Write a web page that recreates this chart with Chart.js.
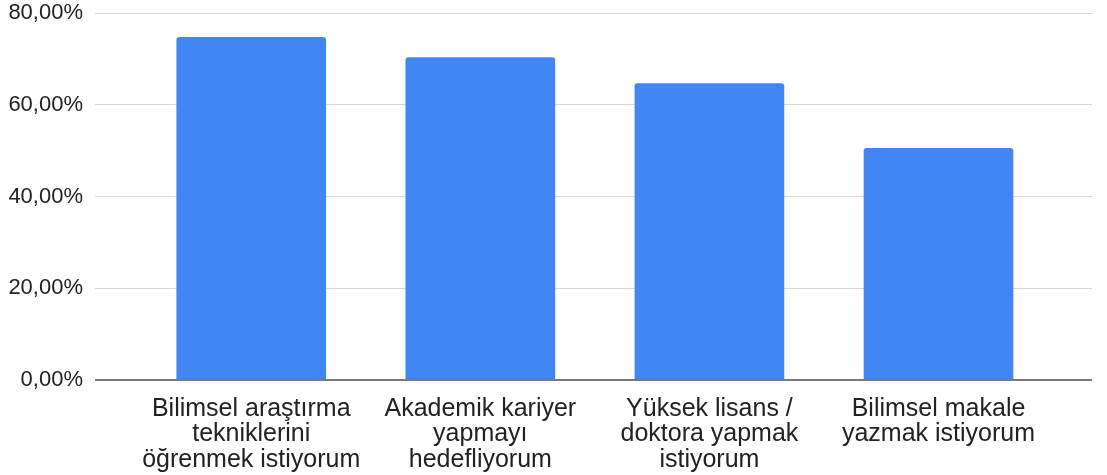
<!DOCTYPE html>
<html><head><meta charset="utf-8">
<script src="https://cdn.jsdelivr.net/npm/chart.js@4"></script>
<style>html,body{margin:0;padding:0;background:#fff}#wrap{width:1107px;height:475px}</style>
</head><body><div id="wrap"><canvas id="c"></canvas></div>
<script>
const categories = [
  ["Bilimsel araştırma","tekniklerini","öğrenmek istiyorum"],
  ["Akademik kariyer","yapmayı","hedefliyorum"],
  ["Yüksek lisans /","doktora yapmak","istiyorum"],
  ["Bilimsel makale","yazmak istiyorum"]
];
const values = [74.7, 70.3, 64.6, 50.5];
const yTicks = [0, 20, 40, 60, 80];

new Chart(document.getElementById('c'), {
  type: 'bar',
  data: {
    datasets: [{
      data: values.map((v, i) => ({x: i, y: v})),
      backgroundColor: '#4285F4',
      borderRadius: {topLeft: 3, topRight: 3},
      borderSkipped: 'bottom',
      barThickness: 149
    }]
  },
  options: {
    responsive: true, maintainAspectRatio: false, animation: false,
    layout: {padding: {top: 13, right: 15, left: 0, bottom: 0}},
    plugins: {legend: {display: false}, tooltip: {enabled: false}},
    scales: {
      x: {
        type: 'linear', min: -0.682, max: 3.67, offset: false,
        grid: {display: false}, border: {display: false},
        afterBuildTicks: s => { s.ticks = categories.map((c, i) => ({value: i})); },
        afterFit: s => { s.height = 95; s.paddingLeft = 0; s.paddingRight = 0; },
        ticks: {
          autoSkip: false, maxRotation: 0, padding: 8,
          font: {family: 'Liberation Sans, Arial', size: 25, lineHeight: 1.02},
          color: '#222',
          callback: v => categories[v]
        }
      },
      y: {
        min: 0, max: 80,
        afterBuildTicks: s => { s.ticks = yTicks.map(v => ({value: v})); },
        afterFit: s => { s.width = 95; s.paddingTop = 0; s.paddingBottom = 0; },
        grid: {
          drawTicks: false,
          color: c => c.tick && c.tick.value === 0 ? '#7a7a7a' : '#d6d6d6',
          lineWidth: c => c.tick && c.tick.value === 0 ? 2 : 1
        },
        border: {display: false},
        ticks: {
          padding: 12,
          font: {family: 'Liberation Sans, Arial', size: 22},
          color: '#222',
          callback: v => v.toFixed(2).replace('.', ',') + '%'
        }
      }
    }
  }
});
</script></body></html>
